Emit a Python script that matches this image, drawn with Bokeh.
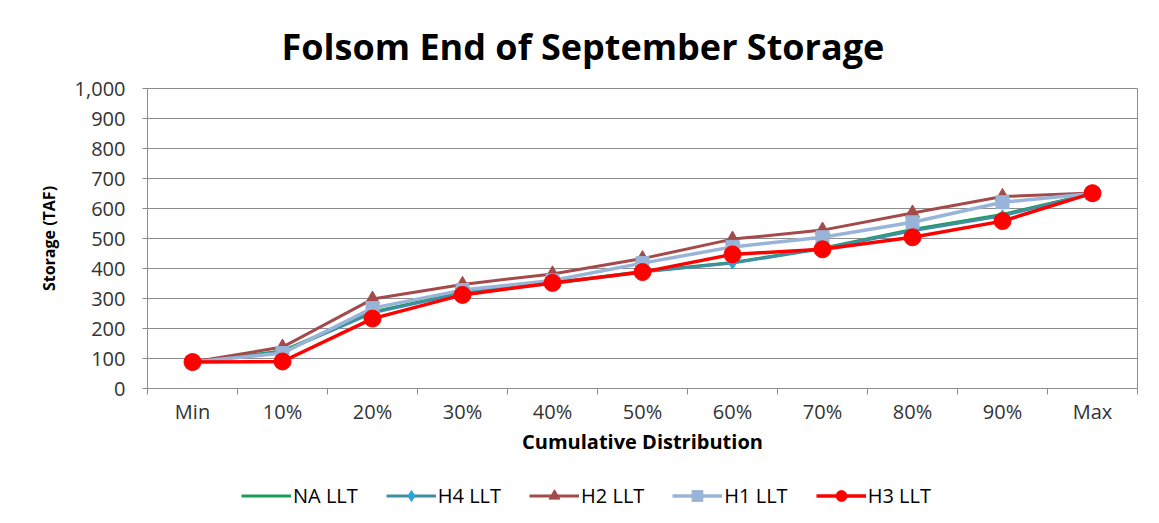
from bokeh.plotting import figure
from bokeh.layouts import column
from bokeh.models import (Range1d, FixedTicker, NumeralTickFormatter, Legend, LegendItem, Title)
from bokeh.embed import file_html
from bokeh.resources import INLINE

categories = ["Min", "10%", "20%", "30%", "40%", "50%", "60%", "70%", "80%", "90%", "Max"]
y_ticks = [0, 100, 200, 300, 400, 500, 600, 700, 800, 900, 1000]

na_llt = [88, 125, 255, 320, 352, 390, 420, 468, 530, 580, 650]
h4_llt = [88, 122, 252, 318, 350, 388, 418, 466, 526, 576, 650]
h2_llt = [88, 138, 298, 347, 382, 433, 498, 528, 585, 640, 652]
h1_llt = [88, 118, 268, 328, 360, 418, 472, 504, 554, 621, 650]
h3_llt = [88, 90, 233, 312, 352, 388, 447, 464, 504, 558, 651]

series_names = ["NA LLT", "H4 LLT", "H2 LLT", "H1 LLT", "H3 LLT"]

FONT = "Open Sans"
GRID = "#8c8c8c"

xs = list(range(len(categories)))


def add_series(fig):
    """Draw the five series on fig, return legend renderer groups."""
    r_na = fig.line(xs, na_llt, line_color="#1a9e55", line_width=3)
    r_h4l = fig.line(xs, h4_llt, line_color="#3f8fa3", line_width=3)
    r_h4m = fig.scatter(xs, h4_llt, marker="diamond", size=12, fill_color="#2aa6d8", line_color="#2aa6d8")
    r_h2l = fig.line(xs, h2_llt, line_color="#a44a4b", line_width=3)
    r_h2m = fig.scatter(xs, h2_llt, marker="triangle", size=14, fill_color="#a44a4b", line_color="#a44a4b")
    r_h1l = fig.line(xs, h1_llt, line_color="#98b4d8", line_width=3.5)
    r_h1m = fig.scatter(xs, h1_llt, marker="square", size=13, fill_color="#98b4d8", line_color="#98b4d8")
    r_h3l = fig.line(xs, h3_llt, line_color="#ff0000", line_width=3.5)
    r_h3m = fig.scatter(xs, h3_llt, marker="circle", size=17, fill_color="#ff0000", line_color="#ff0000")
    return [[r_na], [r_h4l, r_h4m], [r_h2l, r_h2m], [r_h1l, r_h1m], [r_h3l, r_h3m]]


p = figure(frame_width=990, frame_height=300, output_backend="svg", toolbar_location=None,
           x_range=Range1d(-0.5, len(categories) - 0.5), y_range=Range1d(0, 1000),
           min_border_left=147, min_border_right=22, min_border_top=88, min_border_bottom=72)

p.title = Title(text="Folsom End of September Storage", align="left", offset=134,
                text_font=FONT, text_font_size="36px", text_font_style="bold",
                text_color="#000000", standoff=36)
p.title_location = "above"

p.background_fill_color = "white"
p.border_fill_color = "white"
p.outline_line_color = GRID
p.outline_line_width = 1

# x axis
xa = p.xaxis[0]
xa.ticker = FixedTicker(ticks=xs, minor_ticks=[i - 0.5 for i in range(len(categories) + 1)])
xa.major_label_overrides = {i: c for i, c in enumerate(categories)}
xa.major_tick_line_color = None
xa.major_tick_out = 0
xa.major_tick_in = 0
xa.minor_tick_line_color = GRID
xa.minor_tick_out = 6
xa.minor_tick_in = 0
xa.axis_line_color = GRID
xa.major_label_text_font = FONT
xa.major_label_text_font_size = "20px"
xa.major_label_text_color = "#333333"
xa.major_label_standoff = 3
xa.axis_label = "Cumulative Distribution"
xa.axis_label_text_font = FONT
xa.axis_label_text_font_size = "20px"
xa.axis_label_text_font_style = "bold"
xa.axis_label_text_color = "#000000"
xa.axis_label_standoff = 0

# y axis
ya = p.yaxis[0]
ya.ticker = FixedTicker(ticks=y_ticks)
ya.formatter = NumeralTickFormatter(format="0,0")
ya.axis_line_color = GRID
ya.major_tick_line_color = GRID
ya.major_tick_out = 5
ya.major_tick_in = 0
ya.minor_tick_line_color = None
ya.major_label_text_font = FONT
ya.major_label_text_font_size = "20px"
ya.major_label_text_color = "#333333"
ya.major_label_standoff = 17
ya.axis_label = "Storage (TAF)"
ya.axis_label_text_font = FONT
ya.axis_label_text_font_size = "16px"
ya.axis_label_text_font_style = "bold"
ya.axis_label_text_color = "#000000"
ya.axis_label_standoff = 12

p.xgrid.grid_line_color = None
p.ygrid.grid_line_color = GRID
p.ygrid.grid_line_width = 1

add_series(p)

# legend strip below the chart (its own canvas so the legend is not clipped)
leg_fig = figure(width=1159, height=63, output_backend="svg", toolbar_location=None,
                 x_axis_type=None, y_axis_type=None,
                 x_range=Range1d(100, 101), y_range=Range1d(5000, 5001),
                 min_border=0)
leg_fig.outline_line_color = None
leg_fig.grid.grid_line_color = None
leg_fig.background_fill_color = "white"
leg_fig.border_fill_color = "white"
groups = add_series(leg_fig)

legend = Legend(items=[LegendItem(label=n, renderers=g) for n, g in zip(series_names, groups)],
                orientation="horizontal", location=(94, 14))
legend.border_line_color = None
legend.background_fill_alpha = 0
legend.padding = 0
legend.margin = 0
legend.spacing = 28
legend.glyph_width = 50
legend.glyph_height = 27
legend.label_standoff = 2
legend.label_text_font = FONT
legend.label_text_font_size = "20px"
legend.label_text_color = "#000000"
legend.label_height = 27
leg_fig.add_layout(legend, "center")

layout = column(p, leg_fig, spacing=0)
open("out.html", "w").write(file_html(layout, INLINE))
